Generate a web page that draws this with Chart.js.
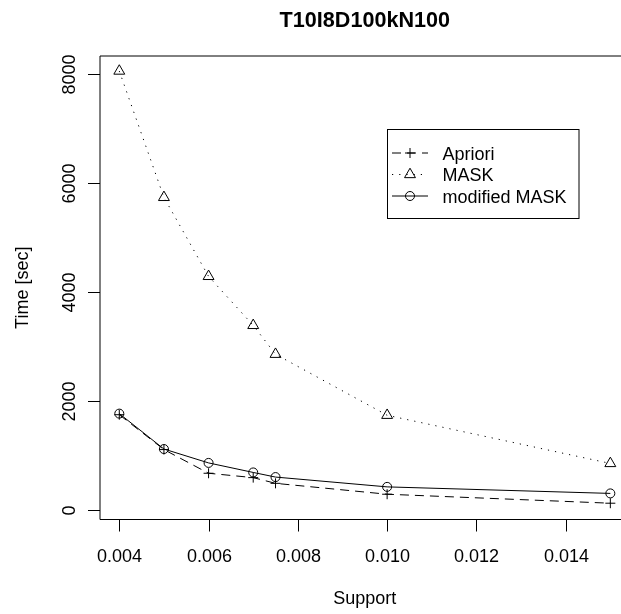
<!DOCTYPE html>
<html>
<head>
<meta charset="utf-8">
<script src="https://cdn.jsdelivr.net/npm/chart.js@4.4.0/dist/chart.umd.min.js"></script>
<style>
  html, body { margin: 0; padding: 0; background: #fff; overflow: hidden; }
  #box { width: 621px; height: 614px; position: relative; }
</style>
</head>
<body>
<div id="box"><canvas id="grafico"></canvas></div>
<script>
// values
const support = [0.004, 0.005, 0.006, 0.007, 0.0075, 0.010, 0.015];
const apriori = [1750, 1110, 675, 595, 490, 290, 125];
const mask = [8060, 5740, 4290, 3390, 2860, 1740, 855];
const modifiedMask = [1770, 1120, 865, 690, 605, 425, 305];

const xTicks = [0.004, 0.006, 0.008, 0.010, 0.012, 0.014];
const yTicks = [0, 2000, 4000, 6000, 8000];

const titulo = 'T10I8D100kN100';
const xTitulo = 'Support';
const yTitulo = 'Time [sec]';

const fonte = '"Liberation Sans", Arial, Helvetica, sans-serif';

function pontos(ys) {
    return support.map((s, i) => ({ x: s, y: ys[i] }));
}

// R-style box, ticks, labels and legend
const eixosR = {
    id: 'eixosR',
    afterDraw(chart) {
        const ctx = chart.ctx;
        const a = chart.chartArea;
        const x = chart.scales.x;
        const y = chart.scales.y;
        ctx.save();
        ctx.strokeStyle = '#000';
        ctx.fillStyle = '#000';
        ctx.lineWidth = 1;
        ctx.setLineDash([]);

        // box (right side is outside the picture)
        ctx.beginPath();
        ctx.moveTo(a.right + 2, a.top);
        ctx.lineTo(a.left, a.top);
        ctx.lineTo(a.left, a.bottom);
        ctx.lineTo(a.right + 2, a.bottom);
        ctx.stroke();

        // x ticks
        ctx.font = '18px ' + fonte;
        ctx.textAlign = 'center';
        ctx.textBaseline = 'alphabetic';
        xTicks.forEach(t => {
            const px = Math.round(x.getPixelForValue(t)) + 0.5;
            ctx.beginPath();
            ctx.moveTo(px, a.bottom);
            ctx.lineTo(px, a.bottom + 12);
            ctx.stroke();
            ctx.fillText(t.toFixed(3), px, 561.5);
        });

        // y ticks, labels rotated like R
        yTicks.forEach(t => {
            const py = Math.round(y.getPixelForValue(t)) + 0.5;
            ctx.beginPath();
            ctx.moveTo(a.left - 12, py);
            ctx.lineTo(a.left, py);
            ctx.stroke();
            ctx.save();
            ctx.translate(75, py);
            ctx.rotate(-Math.PI / 2);
            ctx.fillText(String(t), 0, 0);
            ctx.restore();
        });

        // titles
        const cx = x.getPixelForValue(0.0095);
        ctx.fillText(xTitulo, cx, 603.5);
        ctx.save();
        ctx.translate(28, (a.top + a.bottom) / 2);
        ctx.rotate(-Math.PI / 2);
        ctx.fillText(yTitulo, 0, 0);
        ctx.restore();
        ctx.font = 'bold 21.6px ' + fonte;
        ctx.fillText(titulo, cx, 27);

        // legend
        ctx.strokeRect(387.5, 129.5, 191.5, 89);
        ctx.font = '18px ' + fonte;
        ctx.textAlign = 'left';
        const linhas = [153, 174.5, 196];
        chart.data.datasets.forEach((ds, i) => {
            const ly = linhas[i];
            ctx.save();
            ctx.lineWidth = ds.borderWidth;
            ctx.setLineDash(ds.borderDash || []);
            ctx.beginPath();
            ctx.moveTo(392, ly);
            ctx.lineTo(428, ly);
            ctx.stroke();
            ctx.restore();
            ctx.save();
            ctx.lineWidth = 1;
            ctx.fillStyle = 'rgba(0,0,0,0)';
            Chart.helpers.drawPoint(ctx, {
                pointStyle: ds.pointStyle,
                radius: ds.pointRadius,
                rotation: 0,
                borderWidth: 1
            }, 410, ly);
            ctx.restore();
            ctx.fillText(ds.label, 442.5, ly + 6.5);
        });
        ctx.restore();
    }
};

function desenharGrafico() {
    const ctx = document.getElementById('grafico').getContext('2d');
    const grafico = new Chart(ctx, {
        type: 'scatter',
        data: {
            datasets: [{
                label: 'Apriori',
                data: pontos(apriori),
                showLine: true,
                borderColor: '#000',
                borderWidth: 1,
                borderDash: [9, 6],
                pointStyle: 'cross',
                pointRadius: 5,
                pointBorderColor: '#000',
                pointBackgroundColor: 'rgba(0,0,0,0)',
                pointBorderWidth: 1
            }, {
                label: 'MASK',
                data: pontos(mask),
                showLine: true,
                borderColor: '#000',
                borderWidth: 1,
                borderDash: [1.2, 6],
                pointStyle: 'triangle',
                pointRadius: 6.3,
                pointBorderColor: '#000',
                pointBackgroundColor: 'rgba(0,0,0,0)',
                pointBorderWidth: 1
            }, {
                label: 'modified MASK',
                data: pontos(modifiedMask),
                showLine: true,
                borderColor: '#000',
                borderWidth: 1,
                pointStyle: 'circle',
                pointRadius: 4.5,
                pointBorderColor: '#000',
                pointBackgroundColor: 'rgba(0,0,0,0)',
                pointBorderWidth: 1
            }]
        },
        options: {
            responsive: false,
            animation: false,
            layout: {
                autoPadding: false,
                padding: { left: 100, top: 56, right: 0, bottom: 94.5 }
            },
            scales: {
                x: { type: 'linear', display: false, min: 0.003568, max: 0.015239 },
                y: { type: 'linear', display: false, min: -174, max: 8336 }
            },
            plugins: {
                legend: { display: false },
                title: { display: false },
                tooltip: { enabled: false }
            }
        },
        plugins: [eixosR]
    });
}

const c = document.getElementById('grafico');
c.width = 621;
c.height = 614;
c.style.width = '621px';
c.style.height = '614px';
desenharGrafico();
</script>
</body>
</html>
